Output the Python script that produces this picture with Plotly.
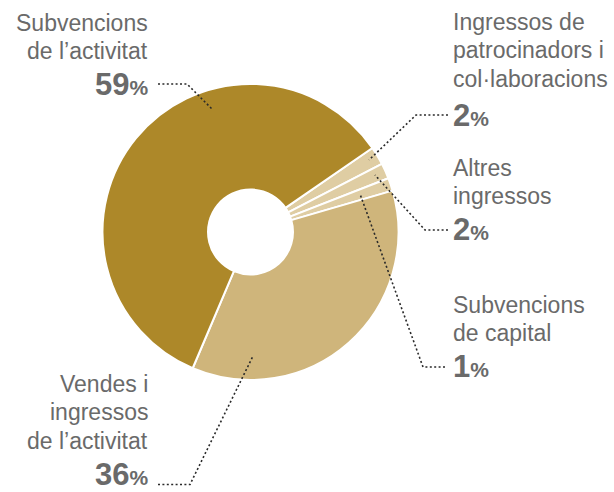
import plotly.graph_objects as go

W, H = 614, 492

# Data (clockwise order, starting at the upper-right small slices)
labels = ["Ingressos de patrocinadors i col·laboracions", "Altres ingressos",
          "Subvencions de capital", "Vendes i ingressos de l’activitat",
          "Subvencions de l’activitat"]
values = [2.0, 1.7, 1.4, 35.9, 59.0]
pct_labels = ["2", "2", "1", "36", "59"]
colors = ["#DFCDA3", "#DFCDA3", "#DFCDA3", "#CFB57B", "#AD8829"]

name_lines = [
    ["Ingressos de", "patrocinadors i", "col·laboracions"],
    ["Altres", "ingressos"],
    ["Subvencions", "de capital"],
    ["Vendes i", "ingressos", "de l’activitat"],
    ["Subvencions", "de l’activitat"],
]

# layout helpers (pixel positions of labels)
cx, cy, R = 250.5, 232.0, 148.0
FONT = "Liberation Sans, Arial, sans-serif"
GRAY = "#6a6a6a"
NAME_SIZE = 23
NUM_SIZE = 31
PCT_SIZE = 21
LINE_H = 28.5

label_pos = [  # (x, first baseline, anchor, pct baseline)
    (452.5, 30, "left", 126),
    (452.5, 175.7, "left", 240),
    (452.5, 312.7, "left", 377.7),
    (148.0, 391.7, "right", 485.3),
    (148.0, 31, "right", 95),
]
leaders = [
    [(448, 115), (416, 115), (369, 160)],
    [(448, 230), (425, 230), (375, 175)],
    [(445, 367), (423, 367), (360, 194)],
    [(158, 484.5), (190, 484.5), (253, 356)],
    [(158, 84), (187, 84), (212, 109)],
]


def px(x):
    return x / W


def py(y):
    return 1 - y / H


fig = go.Figure(go.Pie(
    labels=labels, values=values, sort=False, direction="clockwise",
    rotation=55.4, hole=0.287,
    marker=dict(colors=colors, line=dict(color="white", width=2)),
    textinfo="none", hoverinfo="none",
    domain=dict(x=[px(cx - R), px(cx + R)], y=[py(cy + R), py(cy - R)]),
    showlegend=False,
))

annotations = []
for lines, (x, b0, anc, pb), pct in zip(name_lines, label_pos, pct_labels):
    for i, t in enumerate(lines):
        b = b0 + i * LINE_H
        annotations.append(dict(
            text=t, x=px(x), y=py(b + 0.212 * NAME_SIZE), xref="paper", yref="paper",
            xanchor=anc, yanchor="bottom", showarrow=False, borderpad=0, borderwidth=0,
            font=dict(family=FONT, size=NAME_SIZE, color=GRAY)))
    annotations.append(dict(
        text=f"<b>{pct}<span style='font-size:{PCT_SIZE}px'>%</span></b>",
        x=px(x), y=py(pb + 0.212 * NUM_SIZE), xref="paper", yref="paper",
        xanchor=anc, yanchor="bottom", showarrow=False, borderpad=0, borderwidth=0,
        font=dict(family=FONT, size=NUM_SIZE, color=GRAY)))

shapes = []
for pts in leaders:
    path = "M " + " L ".join(f"{px(x):.5f},{py(y):.5f}" for x, y in pts)
    shapes.append(dict(type="path", path=path, xref="paper", yref="paper",
                       line=dict(color="#2a2a2a", width=1.6, dash="2px,2.4px")))

fig.update_layout(
    width=W, height=H, margin=dict(l=0, r=0, t=0, b=0),
    paper_bgcolor="white", plot_bgcolor="white",
    annotations=annotations, shapes=shapes,
)
fig.write_html("out.html", config={"displayModeBar": False},
               post_script="document.body.style.margin='0';document.body.style.overflow='hidden';")
